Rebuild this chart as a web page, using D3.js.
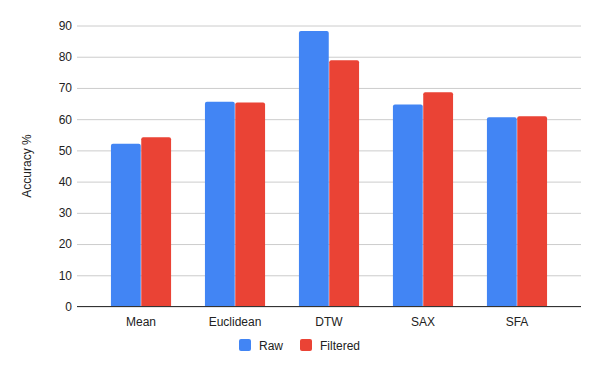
<!DOCTYPE html>
<html>
<head>
<meta charset="utf-8">
<title>Accuracy</title>
<style>
  body { margin: 0; background: #fff; }
  text { font-family: Arial, "Liberation Sans", sans-serif; }
</style>
</head>
<body>
<div id="chart"></div>
<script src="https://d3js.org/d3.v7.min.js"></script>
<script>
const categories = ["Mean", "Euclidean", "DTW", "SAX", "SFA"];
const seriesNames = ["Raw", "Filtered"];
const rawValues = [52.1, 65.6, 88.2, 64.7, 60.6];
const filteredValues = [54.2, 65.3, 78.9, 68.6, 60.9];
const yTicks = [0, 10, 20, 30, 40, 50, 60, 70, 80, 90];
const colors = ["#4285f4", "#ea4335"];

const width = 600, height = 371;
const margin = { top: 25, right: 19, bottom: 65, left: 77 };

const svg = d3.select("#chart").append("svg")
    .attr("width", width)
    .attr("height", height);

const x = d3.scaleBand()
    .domain(categories)
    .range([margin.left, width - margin.right])
    .paddingInner(0.35)
    .paddingOuter(0.356);

const xInner = d3.scaleBand()
    .domain(seriesNames)
    .range([0, x.bandwidth()])
    .padding(0.016);

const y = d3.scaleLinear()
    .domain([0, 90])
    .range([height - margin.bottom + 0.5, margin.top + 0.5]);

// gridlines + y labels
const yAxis = svg.append("g")
    .attr("transform", `translate(${margin.left},0)`)
    .call(d3.axisLeft(y).tickValues(yTicks).tickSize(-(width - margin.left - margin.right)).tickPadding(5));
yAxis.select(".domain").remove();
yAxis.selectAll(".tick line").attr("stroke", "#cccccc");
yAxis.selectAll(".tick text").attr("fill", "#222").style("font-size", "12px");

const data = categories.map((c, i) => ({ cat: c, values: [rawValues[i], filteredValues[i]] }));

const groups = svg.append("g").selectAll("g")
    .data(data)
    .join("g")
    .attr("transform", d => `translate(${x(d.cat)},0)`);

groups.selectAll("path")
    .data(d => d.values.map((v, j) => ({ name: seriesNames[j], value: v, j })))
    .join("path")
    .attr("fill", d => colors[d.j])
    .attr("d", d => {
        const x0 = xInner(d.name), w = xInner.bandwidth();
        const y0 = y(d.value), y1 = y(0), r = 2;
        return `M${x0},${y1}V${y0 + r}Q${x0},${y0} ${x0 + r},${y0}H${x0 + w - r}Q${x0 + w},${y0} ${x0 + w},${y0 + r}V${y1}Z`;
    });

// baseline
svg.append("line")
    .attr("x1", margin.left).attr("x2", width - margin.right)
    .attr("y1", y(0)).attr("y2", y(0))
    .attr("stroke", "#333").attr("stroke-width", 1);

// x labels
const xAxis = svg.append("g")
    .attr("transform", `translate(0,${y(0)})`)
    .call(d3.axisBottom(x).tickSize(0).tickPadding(11));
xAxis.select(".domain").remove();
xAxis.selectAll(".tick text").attr("fill", "#222").style("font-size", "12px");

// y title
svg.append("text")
    .attr("transform", `translate(31,${(y(0) + y(90)) / 2}) rotate(-90)`)
    .attr("text-anchor", "middle")
    .attr("fill", "#222")
    .style("font-size", "12px")
    .text("Accuracy %");

// legend
const legendX = [239, 300];
const legend = svg.append("g").selectAll("g")
    .data(seriesNames)
    .join("g")
    .attr("transform", (d, i) => `translate(${legendX[i]},339)`);
legend.append("rect")
    .attr("width", 12).attr("height", 12).attr("rx", 2)
    .attr("fill", (d, i) => colors[i]);
legend.append("text")
    .attr("x", 20).attr("y", 10.5)
    .attr("fill", "#222")
    .style("font-size", "12px")
    .text(d => d);
</script>
</body>
</html>
